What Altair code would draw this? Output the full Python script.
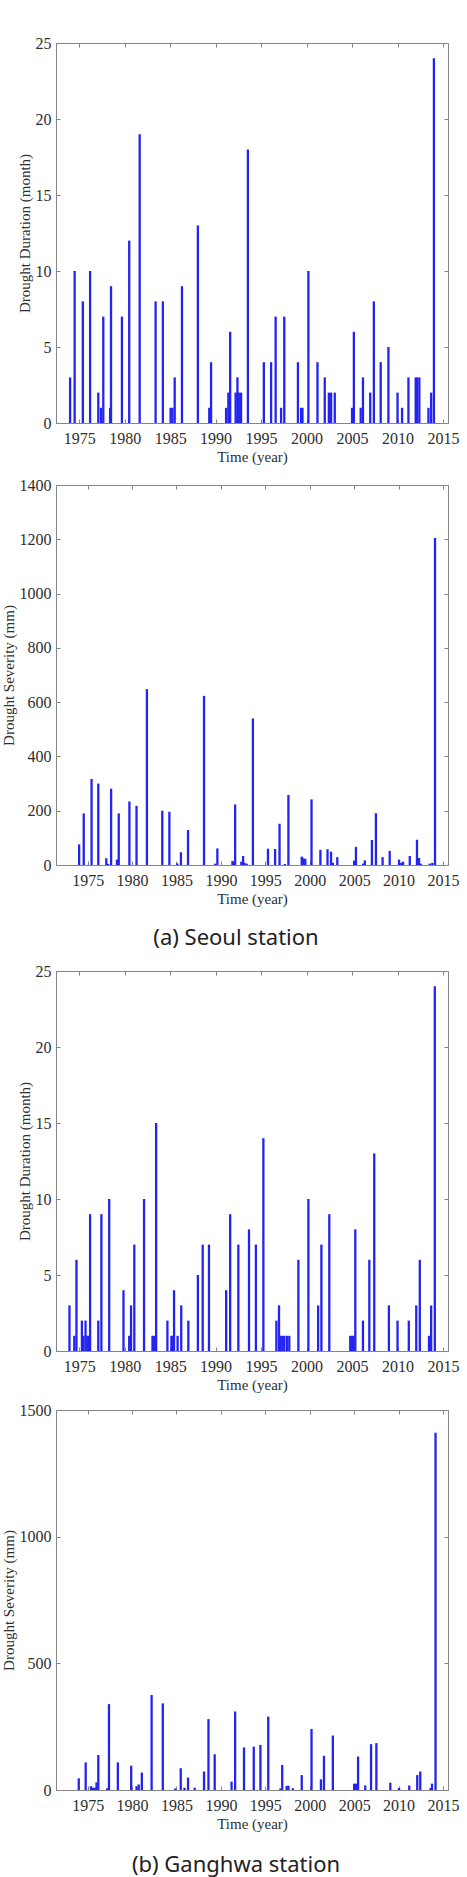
import altair as alt
import pandas as pd

# ---------------- data ----------------
seoul_dur_year = [1974.0, 1974.5, 1975.4, 1976.2, 1977.1, 1977.4, 1977.65, 1978.4, 1978.5, 1979.7,
                  1980.5, 1981.65, 1983.4, 1984.2, 1985.05, 1985.25, 1985.5, 1986.3, 1988.05, 1989.3,
                  1989.5, 1991.15, 1991.4, 1991.6, 1992.2, 1992.4, 1992.55, 1992.8, 1993.55, 1995.3,
                  1996.1, 1996.6, 1997.2, 1997.55, 1999.05, 1999.4, 1999.55, 2000.2, 2001.2, 2002.0,
                  2002.45, 2002.7, 2003.1, 2005.0, 2005.2, 2005.95, 2006.2, 2007.0, 2007.4, 2008.15,
                  2009.0, 2010.0, 2010.5, 2011.2, 2012.0, 2012.15, 2012.4, 2013.4, 2013.7, 2014.0]
seoul_dur = [3, 10, 8, 10, 2, 1, 7, 1, 9, 7,
             12, 19, 8, 8, 1, 1, 3, 9, 13, 1,
             4, 1, 2, 6, 2, 3, 2, 2, 18, 4,
             4, 7, 1, 7, 4, 1, 1, 10, 4, 3,
             2, 2, 2, 1, 6, 1, 3, 2, 8, 4,
             5, 2, 1, 3, 3, 3, 3, 1, 2, 24]

seoul_sev_year = [1974.04, 1974.56, 1975.44, 1976.2, 1977.1, 1977.3, 1977.64, 1978.3, 1978.5, 1979.7,
                  1980.5, 1981.67, 1983.4, 1984.2, 1985.1, 1985.5, 1986.3, 1988.1, 1989.36, 1989.6,
                  1991.3, 1991.45, 1991.6, 1992.3, 1992.5, 1992.65, 1992.9, 1993.6, 1995.3, 1996.1,
                  1996.6, 1997.2, 1997.6, 1999.1, 1999.3, 1999.5, 2000.2, 2001.2, 2002.0, 2002.4,
                  2002.6, 2003.1, 2005.0, 2005.2, 2006.0, 2006.2, 2007.0, 2007.45, 2008.2, 2009.0,
                  2010.05, 2010.3, 2010.5, 2011.26, 2012.07, 2012.3, 2012.5, 2013.5, 2013.8, 2014.1]
seoul_sev = [76, 190, 317, 300, 25, 4, 281, 20, 190, 234,
             218, 648, 200, 196, 6, 47, 129, 623, 5, 61,
             15, 10, 223, 12, 33, 8, 5, 540, 60, 59,
             152, 4, 258, 31, 25, 22, 242, 56, 58, 49,
             8, 29, 16, 67, 5, 17, 92, 191, 29, 52,
             20, 8, 12, 33, 93, 26, 5, 5, 8, 1205]

gh_dur_year = [1973.93, 1974.46, 1974.7, 1975.3, 1975.47, 1975.7, 1975.9, 1976.04, 1976.2, 1977.1,
               1977.44, 1978.3, 1979.87, 1980.5, 1980.7, 1981.06, 1982.13, 1983.06, 1983.24, 1983.46,
               1984.7, 1985.14, 1985.29, 1985.43, 1985.82, 1986.22, 1987.0, 1988.05, 1988.58, 1989.27,
               1991.16, 1991.6, 1992.5, 1993.67, 1994.43, 1995.25, 1996.68, 1996.97, 1997.15, 1997.33,
               1997.54, 1997.83, 1998.1, 1999.1, 2000.2, 2001.27, 2001.63, 2002.5, 2004.8, 2005.0,
               2005.18, 2005.36, 2006.2, 2006.9, 2007.44, 2009.05, 2010.0, 2011.24, 2012.06, 2012.45,
               2013.46, 2013.7, 2014.1]
gh_dur = [3, 1, 6, 2, 1, 2, 1, 1, 9, 2,
          9, 10, 4, 1, 3, 7, 10, 1, 1, 15,
          2, 1, 1, 4, 1, 3, 2, 5, 7, 7,
          4, 9, 7, 8, 7, 14, 2, 3, 1, 1,
          1, 1, 1, 6, 10, 3, 7, 9, 1, 1,
          1, 8, 2, 6, 13, 3, 2, 2, 3, 6,
          1, 3, 24]

gh_sev_year = [1974.0, 1974.78, 1975.37, 1975.6, 1975.8, 1976.0, 1976.2, 1977.2, 1977.4, 1978.4,
               1979.9, 1980.5, 1980.75, 1981.1, 1982.2, 1983.46, 1984.86, 1985.48, 1985.9, 1986.3,
               1987.05, 1988.1, 1988.6, 1989.3, 1991.2, 1991.6, 1992.6, 1993.7, 1994.45, 1995.33,
               1996.7, 1996.9, 1997.4, 1997.6, 1998.1, 1999.1, 2000.2, 2001.26, 2001.6, 2002.6,
               2005.0, 2005.2, 2005.44, 2006.25, 2006.9, 2007.5, 2009.07, 2010.05, 2011.2, 2012.1,
               2012.44, 2013.6, 2013.76, 2014.16]
gh_sev = [46, 109, 15, 9, 9, 30, 138, 7, 339, 109,
          96, 15, 22, 69, 375, 342, 6, 86, 9, 49,
          9, 73, 280, 141, 33, 310, 168, 171, 178, 290,
          6, 99, 16, 17, 7, 59, 241, 42, 135, 215,
          25, 25, 132, 18, 181, 185, 29, 8, 18, 59,
          73, 8, 25, 1410]

x_ticks = [1975, 1980, 1985, 1990, 1995, 2000, 2005, 2010, 2015]

# ---------------- styling ----------------
BLUE = "#2424f0"
AXIS_GRAY = "#858585"
TEXT = "#2e2e2e"
SERIF = "Liberation Serif, Times New Roman, serif"
W, H = 392, 380
LABEL_SIZE = 16
TITLE_SIZE = 15


def panel(years, vals, xdom, ymax, ystep, ytitle, caption=None, cap_offset=21):
    df = pd.DataFrame({"year": years, "value": vals})
    xscale = alt.Scale(domain=xdom, nice=False, zero=False)
    yscale = alt.Scale(domain=[0, ymax], nice=False)
    yvals = list(range(0, ymax + 1, ystep))
    base = alt.Chart(df)

    bars = base.mark_bar(size=2.3, color=BLUE).encode(
        x=alt.X("year:Q", scale=xscale,
                axis=alt.Axis(values=x_ticks, format="d", title="Time (year)", orient="bottom",
                              ticks=False, tickSize=0, labelPadding=7, titlePadding=3,
                              grid=False, labelFlush=False, labelOverlap=False,
                              domainColor=AXIS_GRAY, labelColor=TEXT, titleColor=TEXT,
                              labelFont=SERIF, titleFont=SERIF, labelFontSize=LABEL_SIZE,
                              titleFontSize=TITLE_SIZE, titleFontWeight="normal")),
        y=alt.Y("value:Q", scale=yscale,
                axis=alt.Axis(values=yvals, format="d", title=ytitle, orient="left", ticks=False,
                              tickSize=0, labelPadding=5, titlePadding=3, grid=False,
                              domainColor=AXIS_GRAY, labelColor=TEXT, titleColor=TEXT,
                              labelFont=SERIF, titleFont=SERIF, labelFontSize=LABEL_SIZE,
                              titleFontSize=TITLE_SIZE, titleFontWeight="normal")),
    )
    # inward ticks on bottom edge and left edge
    ticks_a = base.mark_bar(opacity=0, size=1).encode(
        x=alt.X("year:Q", scale=xscale,
                axis=alt.Axis(values=x_ticks, orient="top", offset=-H, labels=False, domain=False,
                              title=None, tickSize=4, tickColor=AXIS_GRAY, grid=False)),
        y=alt.Y("value:Q", scale=yscale,
                axis=alt.Axis(values=yvals, orient="right", offset=-W, labels=False, domain=False,
                              title=None, tickSize=4, tickColor=AXIS_GRAY, grid=False)),
    )
    # inward ticks on top edge and right edge
    ticks_b = base.mark_bar(opacity=0, size=1).encode(
        x=alt.X("year:Q", scale=xscale,
                axis=alt.Axis(values=x_ticks, orient="bottom", offset=-H, labels=False, domain=False,
                              title=None, tickSize=4, tickColor=AXIS_GRAY, grid=False)),
        y=alt.Y("value:Q", scale=yscale,
                axis=alt.Axis(values=yvals, orient="left", offset=-W, labels=False, domain=False,
                              title=None, tickSize=4, tickColor=AXIS_GRAY, grid=False)),
    )
    ch = alt.layer(bars, ticks_a, ticks_b).properties(width=W, height=H)
    if caption:
        ch = ch.properties(title=alt.TitleParams(caption, orient="bottom", anchor="middle",
                                                 frame="group", dx=-16, offset=cap_offset,
                                                 font="Noto Sans", fontSize=22,
                                                 fontWeight="normal", color="#222222"))
    return ch


p1 = panel(seoul_dur_year, seoul_dur, [1973, 2015], 25, 5, "Drought Duration (month)")
p2 = panel(seoul_sev_year, seoul_sev, [1972, 2015], 1400, 200, "Drought Severity (mm)",
           caption="(a) Seoul station", cap_offset=22)
p3 = panel(gh_dur_year, gh_dur, [1973, 2015], 25, 5, "Drought Duration (month)")
p4 = panel(gh_sev_year, gh_sev, [1972, 2015], 1500, 500, "Drought Severity (mm)",
           caption="(b) Ganghwa station", cap_offset=24)

top_block = alt.vconcat(p1, p2, spacing=11)
bottom_block = alt.vconcat(p3, p4, spacing=8)

chart = alt.vconcat(top_block, bottom_block, spacing=12).properties(
    padding={"left": 0, "top": 34, "right": 0, "bottom": 5},
    background="white",
).configure_view(stroke=AXIS_GRAY, strokeWidth=1).configure_axis(
    labelFont=SERIF, titleFont=SERIF
)

chart.save("out.html", embed_options={"renderer": "svg", "actions": False})
